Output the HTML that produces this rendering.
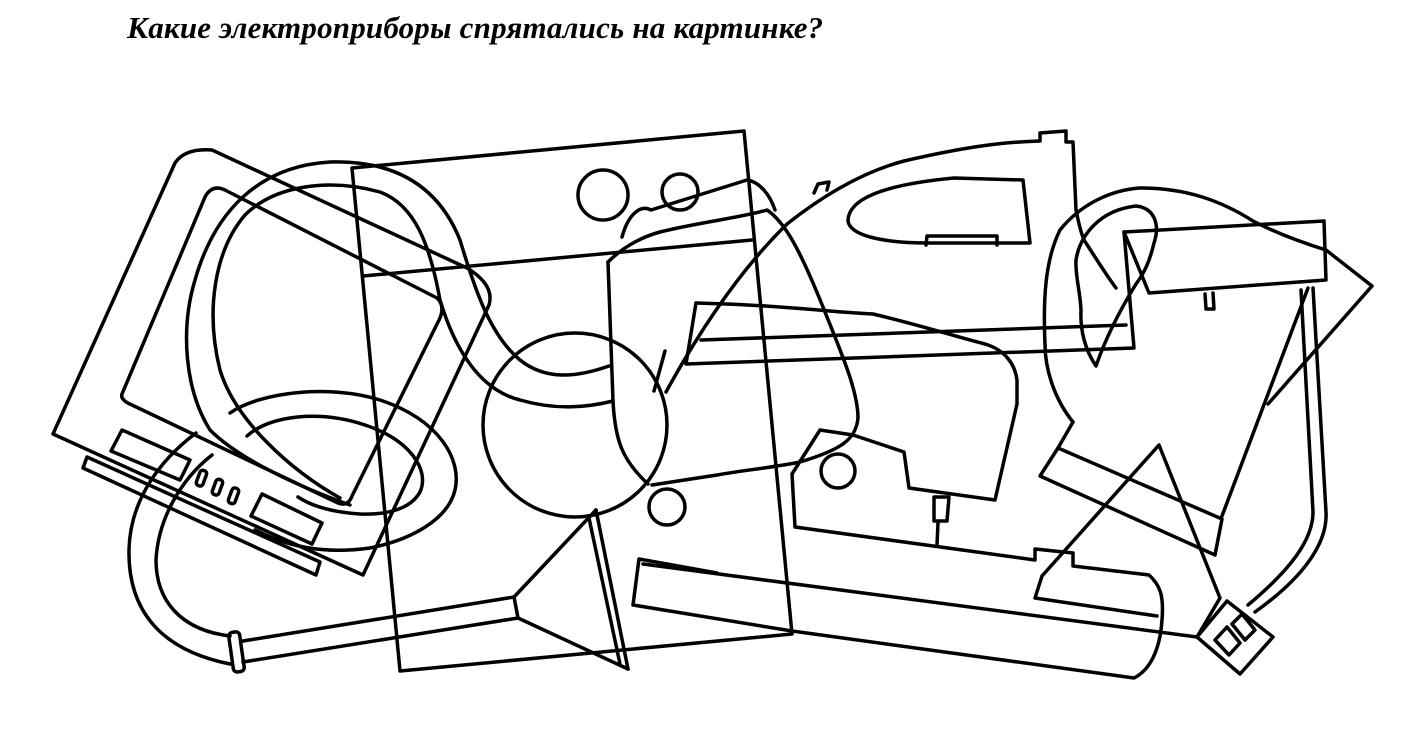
<!DOCTYPE html>
<html><head><meta charset="utf-8"><style>
html,body{margin:0;padding:0;background:#fff;}
body{width:1425px;height:745px;overflow:hidden;position:relative;}
.t{position:absolute;left:127px;top:10px;font-family:"Liberation Serif",serif;font-weight:bold;font-style:italic;font-size:31px;color:#000;letter-spacing:0.2px;}
svg{position:absolute;left:0;top:0;}
</style></head><body>
<div class="t">Какие электроприборы спрятались на картинке?</div>
<svg width="1425" height="745" viewBox="0 0 1425 745" fill="none" stroke="#000" stroke-width="3.5" stroke-linejoin="round" stroke-linecap="round">
<!-- TV -->
<path d="M53,434 L175,163 Q185,148 212,150 L467,268 Q495,285 489,305 L363,575 Z"/>
<path d="M122,394 L205,197 Q212,184 225,190 L437,298 Q445,305 440,318 L352,496 Q348,507 338,503 L132,405 Q120,400 122,394 Z"/>
<path d="M87,457 L320,562 L316,575 L83,468 Z"/>
<path d="M122,430 L190,460 L180,480 L111,451 Z"/>
<path d="M262,494 L322,523 L312,544 L251,516 Z"/>
<rect x="198" y="470" width="7" height="16" rx="3" transform="rotate(20 201 478)"/>
<rect x="214" y="479" width="7" height="16" rx="3" transform="rotate(20 217 487)"/>
<rect x="230" y="488" width="7" height="16" rx="3" transform="rotate(20 234 496)"/>
<!-- tall box -->
<path d="M352,168 L744,131 L792,634 L400,671 Z"/>
<path d="M363,276 L752,240"/>
<circle cx="603" cy="195" r="25"/>
<circle cx="680" cy="192" r="18"/>
<!-- hose loops -->
<path d="M350,505 C300,487 240,460 210,430 C185,390 180,330 195,280 C215,210 260,166 330,162 C400,160 440,190 460,240 C475,290 490,335 520,360 C545,380 575,378 609,366"/>
<path d="M340,498 C290,470 235,420 220,370 C205,310 215,250 245,215 C275,185 330,178 380,192 C415,205 430,245 440,300 C455,350 480,390 520,400 C555,410 585,408 613,401"/>
<circle cx="575" cy="425" r="92"/>
<path d="M230,413 C260,392 330,384 380,400 C440,420 462,460 455,490 C448,520 410,540 370,548 C320,555 285,545 255,530"/>
<path d="M247,436 C270,415 320,410 365,425 C410,440 430,470 420,492 C410,510 385,515 360,514 C330,512 310,505 298,497"/>
<!-- lower hose -->
<path d="M196,433 C160,460 130,500 129,550 C128,610 160,650 230,664"/>
<path d="M212,455 C180,480 158,520 156,560 C156,600 180,630 230,636"/>
<path d="M243,641 L514,597 M243,662 L518,618"/>
<rect x="231" y="632" width="11" height="40" rx="4" transform="rotate(-8 236 652)"/>
<path d="M514,597 L596,510 M518,618 L628,669"/>
<path d="M596,510 L628,669 M589,518 L620,664"/>
<path d="M514,597 L518,618"/>
<!-- kettle -->
<path d="M608,262 L613,401 C615,440 622,460 648,484"/>
<path d="M608,262 C625,245 645,236 660,232 C700,222 740,218 767,210 C785,222 800,250 823,307 C840,350 858,390 858,418 C856,440 840,450 800,462 C770,468 745,470 717,475 L652,485"/>
<path d="M622,237 C628,215 640,204 651,210 L747,180 C760,182 770,195 775,210"/>
<path d="M665,351 L654,391"/>
<circle cx="667" cy="507" r="18"/>
<path d="M639,559 L633,605 M639,559 L717,573 M633,605 L792,631"/>
<!-- iron -->
<path d="M666,392 C700,330 740,270 787,224 C830,190 870,170 904,161 C960,148 1000,142 1040,141 L1040,133 L1066,131 L1066,142 L1073,142 L1076,210 C1080,230 1083,240 1086,243 C1100,265 1110,280 1116,288"/>
<path d="M1023,180 L1030,243 L930,243 C880,243 850,235 848,221 C848,200 880,185 954,178 Z"/>
<path d="M926,245 L927,236 L997,236 L997,245"/>
<path d="M814,193 L818,184 L829,182 L827,190"/>
<!-- band / sewing machine -->
<path d="M696,303 C780,305 830,312 873,314 C920,325 950,335 985,344 C1005,350 1015,364 1017,380 L1017,404 L995,500 L909,488 L904,452 L853,435 L820,430 L792,474 L795,527 L1035,560 L1035,549 L1073,553 L1073,566 L1149,575 C1160,585 1164,595 1162,620 C1160,650 1150,670 1134,678 L792,631"/>
<path d="M696,303 L686,364 L1134,348 L1124,232"/>
<path d="M701,340 L1126,325"/>
<circle cx="838" cy="471" r="17"/>
<path d="M934,497 L949,497 L947,521 L934,521 Z M938,523 L937,545"/>
<path d="M643,564 L1197,637"/>
<!-- right box -->
<path d="M1124,232 L1324,221 L1326,280 L1149,293 Z"/>
<path d="M1205,294 L1206,309 L1214,309 L1213,293"/>
<path d="M1326,250 L1372,286 L1268,404"/>
<path d="M1308,288 L1222,516"/>
<path d="M1301,290 L1313,512 C1313,540 1290,570 1248,605 M1313,288 L1326,512 C1328,545 1300,580 1255,612"/>
<path d="M1197,637 L1227,601 L1273,637 L1240,674 Z"/>
<path d="M1215,640 L1227,627 L1240,643 L1229,655 Z M1232,624 L1242,614 L1255,630 L1245,640 Z"/>
<!-- cord loop -->
<path d="M1073,422 C1055,400 1045,370 1045,344 C1043,300 1045,260 1060,230 C1080,205 1110,190 1140,188 C1185,188 1220,200 1253,221 C1280,235 1310,245 1326,250"/>
<path d="M1096,366 C1085,350 1080,330 1081,310 C1080,290 1075,275 1076,260 C1080,235 1100,210 1136,206 C1155,208 1160,225 1154,243 C1150,260 1145,272 1136,284 C1120,310 1105,340 1096,366 Z"/>
<path d="M1073,422 L1058,448"/>
<!-- bottom right -->
<path d="M1058,448 L1222,519 L1215,555 L1040,476 Z"/>
<path d="M1159,445 L1220,598 L1197,637 M1159,445 L1042,576 L1035,598 L1157,616"/>
</svg>
</body></html>
